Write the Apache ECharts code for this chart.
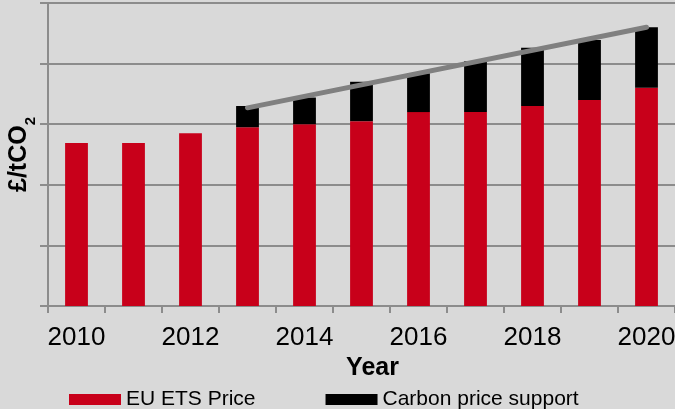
<!DOCTYPE html>
<html>
<head>
<meta charset="utf-8">
<script src="https://cdn.jsdelivr.net/npm/echarts@6/dist/echarts.min.js"></script>
<style>
html,body{margin:0;padding:0;background:#d9d9d9;}
#chart{width:675px;height:409px;}
</style>
</head>
<body>
<div id="chart"></div>
<script>
var years = ['2010','2011','2012','2013','2014','2015','2016','2017','2018','2019','2020'];
var euEtsPrice = [26.9, 26.9, 28.5, 29.5, 30.0, 30.5, 32.0, 32.0, 33.0, 34.0, 36.0];
var carbonPriceSupport = [0, 0, 0, 3.5, 4.4, 6.5, 6.4, 8.4, 9.6, 9.9, 10.0];
var floorLine = [null, null, null, 32.7, null, null, null, null, null, null, 46.0];

var FONT = 'Liberation Sans, Arial, sans-serif';
var chart = echarts.init(document.getElementById('chart'), null, {renderer: 'canvas'});
chart.setOption({
  backgroundColor: '#d9d9d9',
  animation: false,
  grid: {left: 48, right: 0, top: 3, bottom: 103, containLabel: false, outerBoundsMode: 'none'},
  legend: {
    left: 69, top: 389, padding: 0,
    itemWidth: 52, itemHeight: 11, itemGap: 70,
    icon: 'rect',
    textStyle: {fontFamily: FONT, fontSize: 21, color: '#000'},
    data: ['EU ETS Price', 'Carbon price support']
  },
  xAxis: {
    type: 'category',
    data: years,
    name: 'Year',
    nameLocation: 'middle',
    nameGap: 43,
    nameTextStyle: {fontFamily: FONT, fontSize: 25, fontWeight: 'bold', color: '#000', padding: [0, 0, 0, 22]},
    axisLine: {lineStyle: {color: '#8c8c8c', width: 2}},
    axisTick: {show: true, length: 7, alignWithLabel: false, interval: 0, lineStyle: {color: '#8c8c8c', width: 2}},
    axisLabel: {interval: 1, margin: 19, fontFamily: FONT, fontSize: 26, color: '#000'}
  },
  yAxis: {
    type: 'value',
    min: 0, max: 50, interval: 10,
    name: '{a|£/tCO}{b|2}',
    nameLocation: 'middle',
    nameRotate: 90,
    nameGap: -7,
    nameTextStyle: {
      rich: {
        a: {fontFamily: FONT, fontSize: 25, fontWeight: 'bold', color: '#000', lineHeight: 24, verticalAlign: 'top'},
        b: {fontFamily: FONT, fontSize: 15, fontWeight: 'bold', color: '#000', lineHeight: 48, verticalAlign: 'middle'}
      }
    },
    axisLine: {show: true, lineStyle: {color: '#8c8c8c', width: 2}},
    axisTick: {show: true, length: 8, lineStyle: {color: '#8c8c8c', width: 2}},
    axisLabel: {show: false},
    splitLine: {show: true, lineStyle: {color: '#8c8c8c', width: 2}}
  },
  series: [
    {
      name: 'EU ETS Price', type: 'bar', stack: 'p', data: euEtsPrice,
      barWidth: '40%', itemStyle: {color: '#c8001a'}
    },
    {
      name: 'Carbon price support', type: 'bar', stack: 'p', data: carbonPriceSupport,
      barWidth: '40%', itemStyle: {color: '#000000'}
    },
    {
      name: 'Floor', type: 'line', data: floorLine, connectNulls: true,
      symbol: 'none', lineStyle: {color: '#808080', width: 5, cap: 'round'},
      z: 5
    }
  ]
});
</script>
</body>
</html>
